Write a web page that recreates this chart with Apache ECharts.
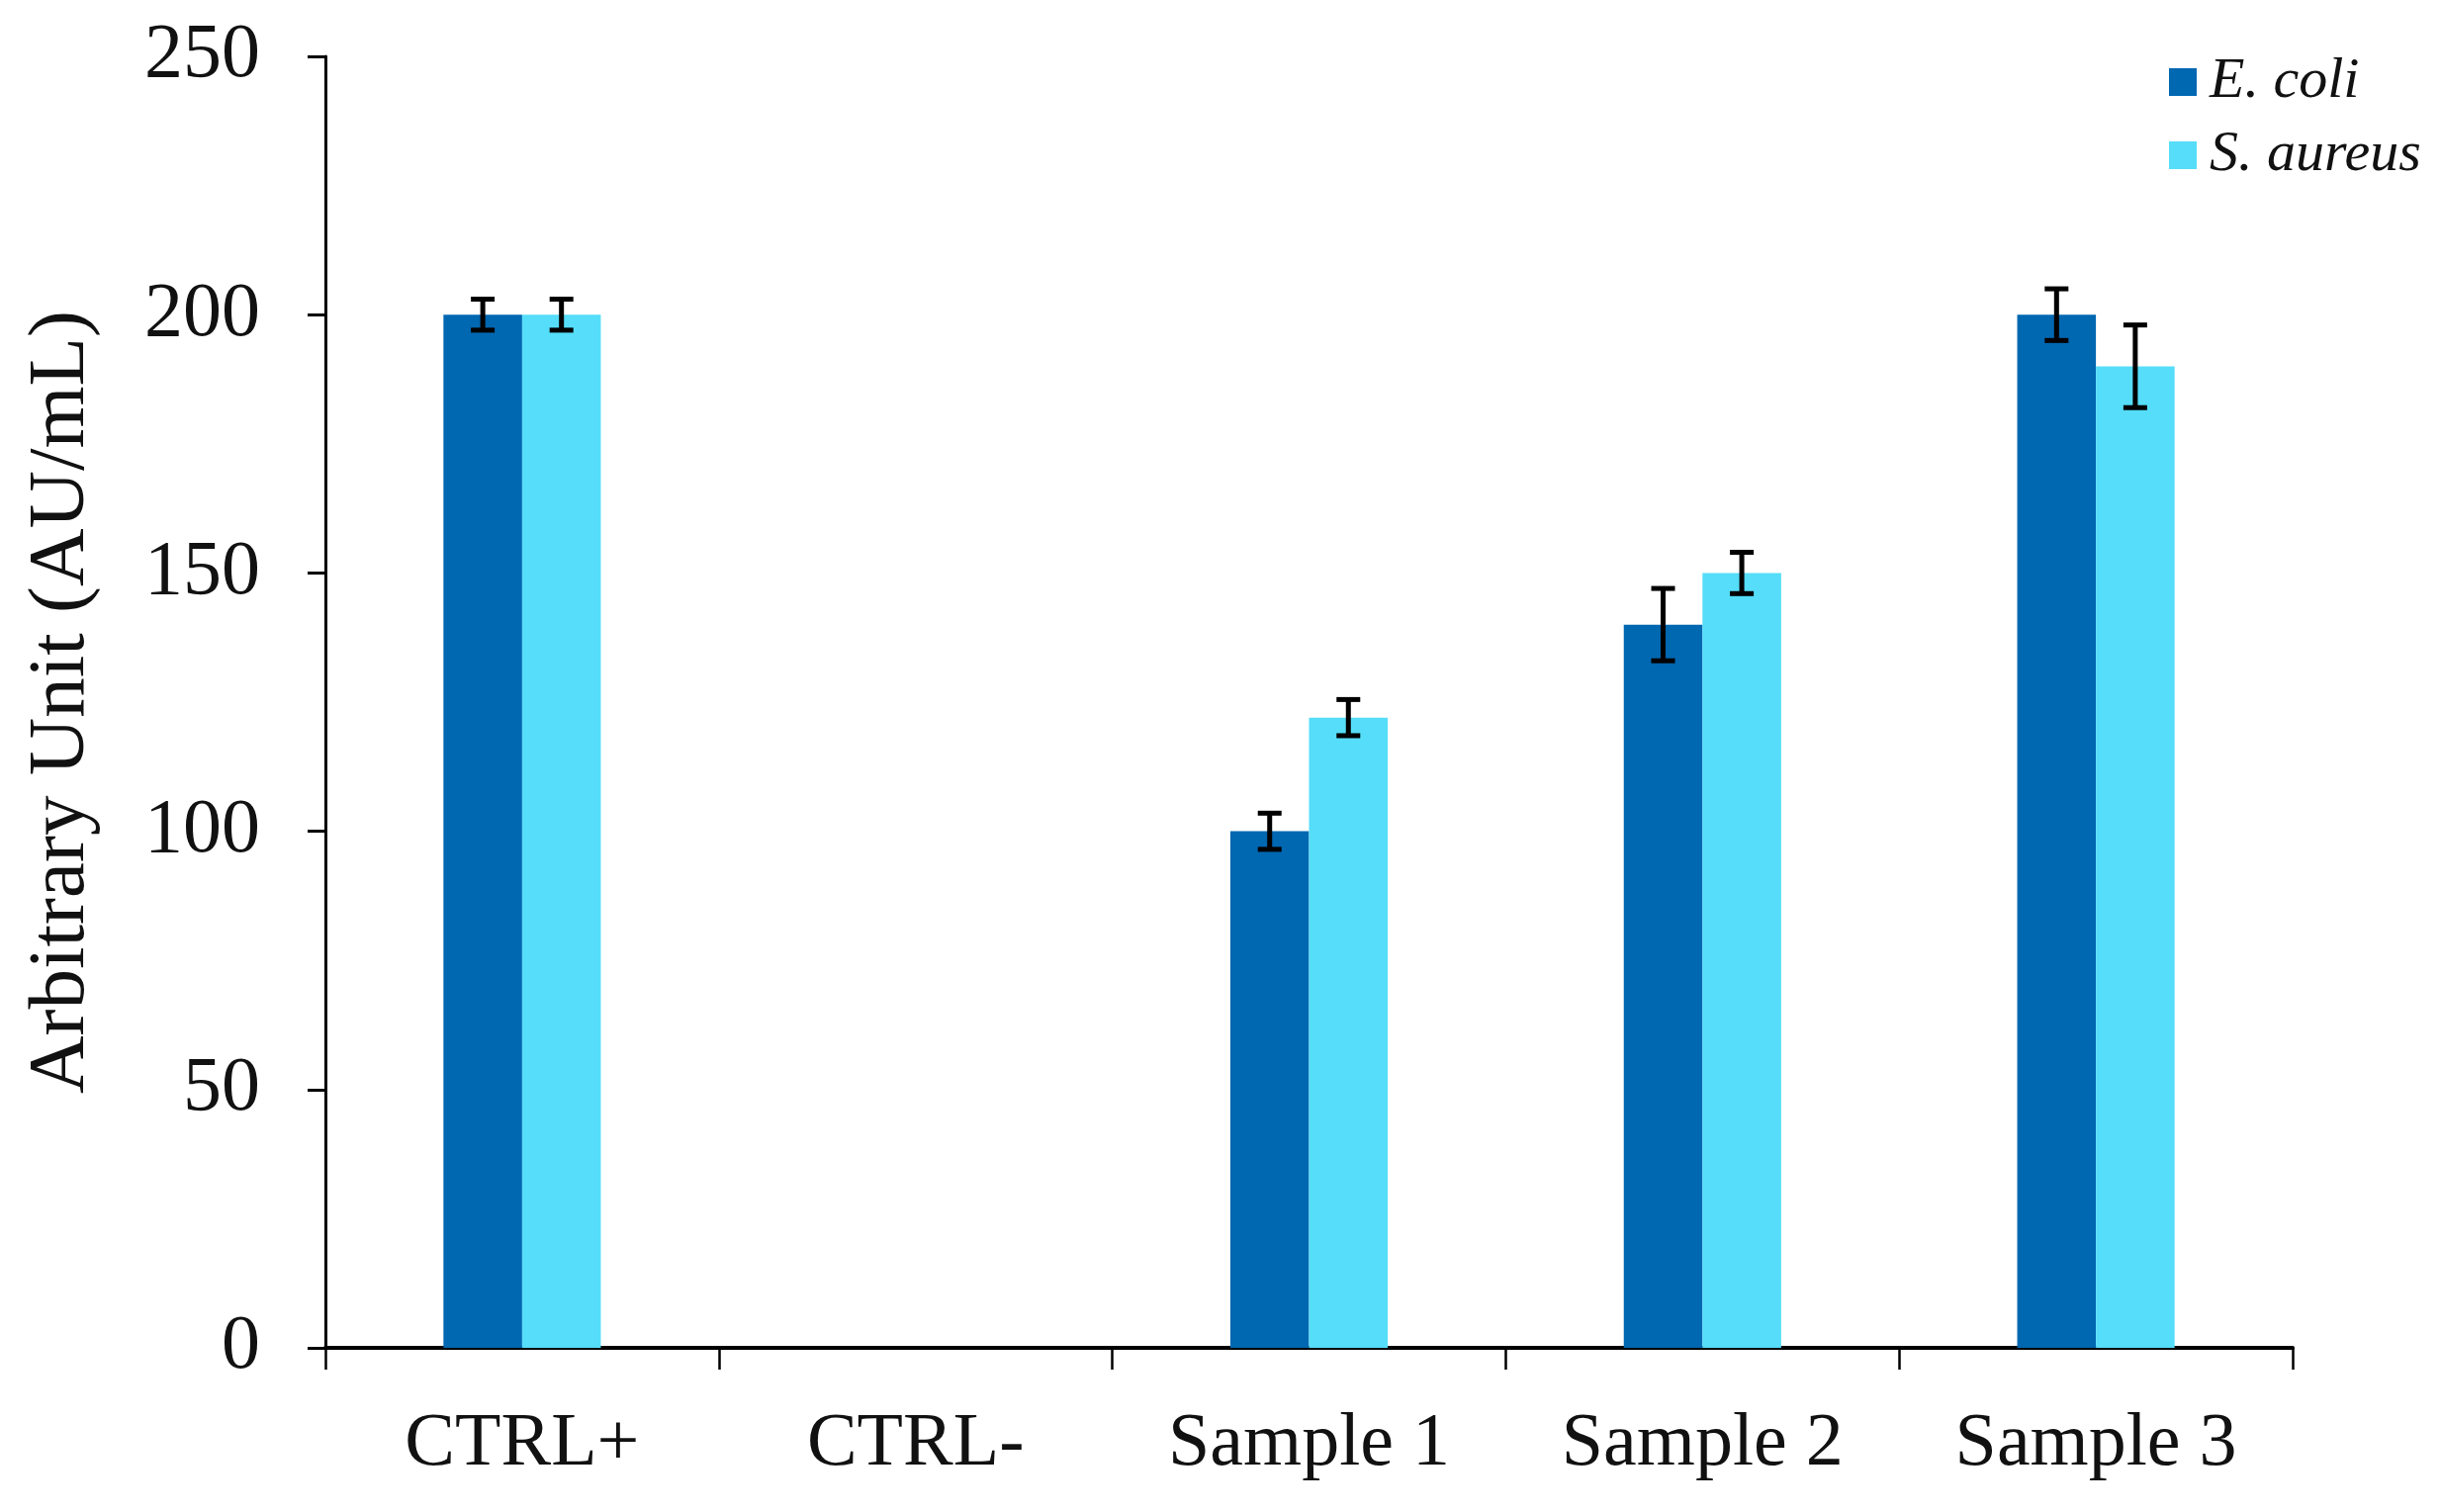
<!DOCTYPE html>
<html>
<head>
<meta charset="utf-8">
<script src="https://cdn.jsdelivr.net/npm/echarts@6/dist/echarts.min.js"></script>
<style>
html,body{margin:0;padding:0;background:#fff;}
#chart{width:2467px;height:1529px;}
</style>
</head>
<body>
<div id="chart"></div>
<script>
const categories = ['CTRL+', 'CTRL-', 'Sample 1', 'Sample 2', 'Sample 3'];
const ecoliValues = [200, 0, 100, 140, 200];
const ecoliErrors = [3, 0, 3.5, 7, 5];
const aureusValues = [200, 0, 122, 150, 190];
const aureusErrors = [3, 0, 3.5, 4, 8];
const yTicks = [0, 50, 100, 150, 200, 250];

const FONT = '"Liberation Serif", "DejaVu Serif", serif';
const DARK = '#0067B1';
const LIGHT = '#55DDF9';

function errData(vals, errs) {
  return vals.map((v, i) => [i, v, errs[i]]);
}

function errRender(offsetFrac) {
  return function (params, api) {
    const x = api.value(0), v = api.value(1), e = api.value(2);
    if (!e) return null;
    const w = api.size([1, 0])[0];
    const c = api.coord([x, v]);
    const cx = c[0] + offsetFrac * w;
    const top = api.coord([x, v + e])[1];
    const bot = api.coord([x, v - e])[1];
    const hw = 12;
    const style = { stroke: '#000', lineWidth: 5 };
    return {
      type: 'group',
      children: [
        { type: 'line', shape: { x1: cx, y1: top, x2: cx, y2: bot }, style: style },
        { type: 'line', shape: { x1: cx - hw, y1: top, x2: cx + hw, y2: top }, style: style },
        { type: 'line', shape: { x1: cx - hw, y1: bot, x2: cx + hw, y2: bot }, style: style }
      ]
    };
  };
}

const chart = echarts.init(document.getElementById('chart'));
chart.setOption({
  animation: false,
  backgroundColor: '#fff',
  grid: { left: 329, right: 149, top: 57, bottom: 166, containLabel: false },
  legend: {
    orient: 'vertical',
    left: 2188,
    top: 48,
    icon: 'rect',
    itemWidth: 28,
    itemHeight: 28,
    itemGap: 14,
    textStyle: { fontFamily: FONT, fontStyle: 'italic', fontSize: 58, color: '#111', lineHeight: 60, padding: [0, 0, 0, 8] },
    data: ['E. coli', 'S. aureus']
  },
  xAxis: {
    type: 'category',
    data: categories,
    boundaryGap: true,
    axisLine: { show: true, lineStyle: { color: '#000', width: 4 } },
    axisTick: { show: true, alignWithLabel: false, length: 22, lineStyle: { color: '#000', width: 2.5 } },
    axisLabel: { fontFamily: FONT, fontSize: 76, color: '#111', margin: 60 },
    splitLine: { show: false }
  },
  yAxis: {
    type: 'value',
    min: yTicks[0],
    max: yTicks[yTicks.length - 1],
    interval: 50,
    name: 'Arbitrary Unit (AU/mL)',
    nameLocation: 'middle',
    nameGap: 226,
    nameTextStyle: { fontFamily: FONT, fontSize: 81, color: '#111' },
    axisLine: { show: true, lineStyle: { color: '#000', width: 3 } },
    axisTick: { show: true, inside: false, length: 18, lineStyle: { color: '#000', width: 3 } },
    axisLabel: { fontFamily: FONT, fontSize: 78, color: '#111', margin: 66 },
    splitLine: { show: false }
  },
  series: [
    {
      name: 'E. coli', type: 'bar', data: ecoliValues, barWidth: '20%', barGap: '0%',
      itemStyle: { color: DARK }
    },
    {
      name: 'S. aureus', type: 'bar', data: aureusValues, barWidth: '20%', barGap: '0%',
      itemStyle: { color: LIGHT }
    },
    {
      name: 'E. coli err', type: 'custom', data: errData(ecoliValues, ecoliErrors),
      renderItem: errRender(-0.1), encode: { x: 0, y: 1 }, z: 10, silent: true
    },
    {
      name: 'S. aureus err', type: 'custom', data: errData(aureusValues, aureusErrors),
      renderItem: errRender(0.1), encode: { x: 0, y: 1 }, z: 10, silent: true
    }
  ]
});
</script>
</body>
</html>
